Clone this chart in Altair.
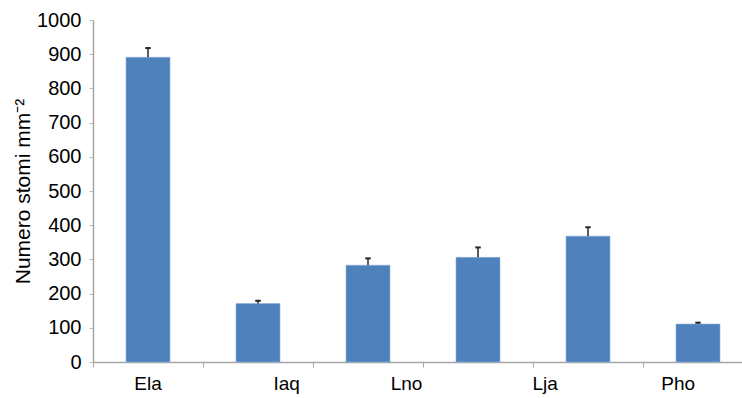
import altair as alt
import pandas as pd

# Stomatal density per species (mean and standard error)
positions = [0.5, 1.5, 2.5, 3.5, 4.5, 5.5]
means = [891, 171, 283, 306, 368, 111]
errors = [27, 8, 20, 29, 26, 4]

# Category labels and where they sit along the x axis
labels = ["Ela", "Iaq", "Lno", "Lja", "Pho"]
label_pos = [0.5, 1.76, 2.85, 4.11, 5.32]

bars_df = pd.DataFrame({"pos": positions, "mean": means, "err": errors})
bars_df["x0"] = bars_df["pos"] - 0.2
bars_df["x1"] = bars_df["pos"] + 0.2
bars_df["top"] = bars_df["mean"] + bars_df["err"]
bars_df["c0"] = bars_df["pos"] - 0.025
bars_df["c1"] = bars_df["pos"] + 0.025

lab_df = pd.DataFrame({"label": labels, "pos": label_pos})

FONT = "Liberation Sans"
xscale = alt.Scale(domain=[0, 5.9], nice=False, zero=False)
yscale = alt.Scale(domain=[0, 1000], nice=False)

xaxis = alt.Axis(values=[0, 1, 2, 3, 4, 5], labels=False, title=None)
yaxis = alt.Axis(
    values=list(range(0, 1001, 100)),
    format="d",
    labelOverlap=False,
    title="Numero stomi mm⁻²",
)

bars = alt.Chart(bars_df).mark_rect(color="#4f81bd", stroke="#8fb0dd", strokeWidth=0.6).encode(
    x=alt.X("x0:Q", scale=xscale, axis=xaxis),
    x2="x1:Q",
    y=alt.Y("mean:Q", scale=yscale, axis=yaxis),
    y2=alt.datum(0),
)

stems = alt.Chart(bars_df).mark_rule(color="#262626", strokeWidth=1.5).encode(
    x=alt.X("pos:Q", scale=xscale, axis=xaxis),
    y=alt.Y("mean:Q", scale=yscale, axis=yaxis),
    y2="top:Q",
)

caps = alt.Chart(bars_df).mark_rule(color="#262626", strokeWidth=2).encode(
    x=alt.X("c0:Q", scale=xscale, axis=xaxis),
    x2="c1:Q",
    y=alt.Y("top:Q", scale=yscale, axis=yaxis),
)

text = alt.Chart(lab_df).mark_text(
    font=FONT, fontSize=19, color="black", baseline="middle", align="center"
).encode(
    x=alt.X("pos:Q", scale=xscale, axis=xaxis),
    y=alt.value(364),
    text="label:N",
)

chart = (
    alt.layer(bars, stems, caps, text)
    .properties(
        width=649,
        height=342,
        background="white",
        autosize=alt.AutoSizeParams(type="none"),
        padding={"left": 93, "top": 20, "right": 0, "bottom": 36},
    )
    .configure_view(strokeWidth=0)
    .configure_axis(
        grid=False,
        domainColor="#a6a6a6",
        domainWidth=1.5,
        tickColor="#a6a6a6",
        labelFont=FONT,
        labelFontSize=20,
        labelColor="black",
        titleFont=FONT,
        titleFontSize=21,
        titleFontWeight="normal",
        titleColor="black",
    )
    .configure_axisX(tickSize=5)
    .configure_axisY(
        tickSize=4,
        tickColor="#bfbfbf",
        labelPadding=8,
        titleAngle=-90,
        titleX=-70,
        titleY=171,
        titleAlign="center",
        titleBaseline="middle",
    )
)

chart.save("out.html", embed_options={"renderer": "svg", "actions": False})
